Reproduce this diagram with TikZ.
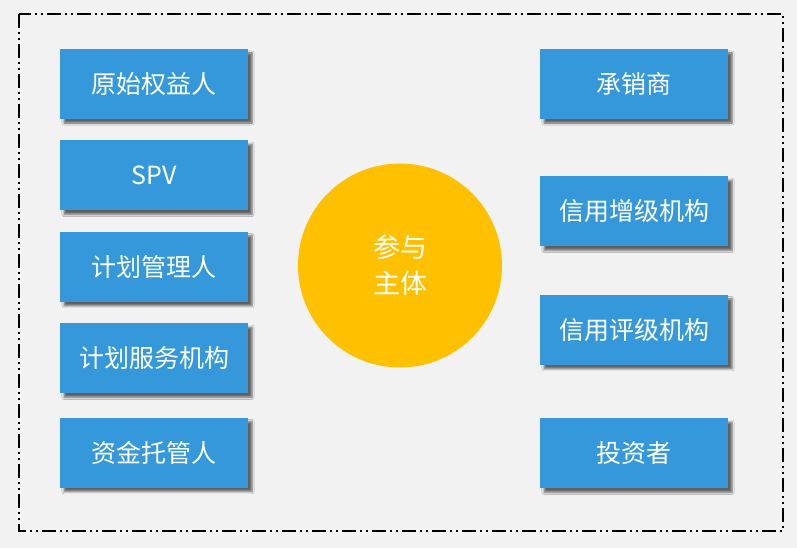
\documentclass[tikz,border=0pt]{standalone}
\usepackage{fontspec}
\setmainfont{Noto Sans CJK SC}
\usetikzlibrary{positioning,shadows.blur}
\definecolor{boxblue}{HTML}{3598DB}
\definecolor{hubyellow}{HTML}{FFC000}
\definecolor{pagegray}{HTML}{F2F2F2}

\begin{document}
\begin{tikzpicture}[x=1pt,y=1pt,
    party/.style={fill=boxblue, text=white, minimum width=188pt, minimum height=70pt, inner sep=0pt,
        font=\fontsize{25}{29}\selectfont,
        blur shadow={shadow xshift=4pt, shadow yshift=-4pt, shadow blur steps=5, shadow opacity=60}},
    hub/.style={circle, fill=hubyellow, text=white, minimum size=204pt, inner sep=0pt, align=center,
        font=\fontsize{27}{36}\selectfont}]
        % page and frame
        \fill[pagegray] (0,0) rectangle (797,-548);
        \useasboundingbox (0,0) rectangle (797,-548);
        \draw[line width=2pt, dash pattern=on 14pt off 4pt on 2pt off 4pt on 2pt off 4pt] (19,-14) rectangle (783,-531);
        % left column
        \node[party] (orig) at (154,-84) {原始权益人};
        \node[party, below=21pt of orig] (spv) {SPV};
        \node[party, below=21pt of spv] (mgr) {计划管理人};
        \node[party, below=21pt of mgr] (svc) {计划服务机构};
        \node[party, below=24pt of svc] (cust) {资金托管人};
        % right column
        \node[party] (under) at (634,-84) {承销商};
        \node[party, below=57pt of under] (enh) {信用增级机构};
        \node[party, below=48pt of enh] (rate) {信用评级机构};
        \node[party, below=53pt of rate] (inv) {投资者};
        % centre
        \node[hub] (main) at (400,-265.5) {参与\\主体};
    \end{tikzpicture}
\end{document}
